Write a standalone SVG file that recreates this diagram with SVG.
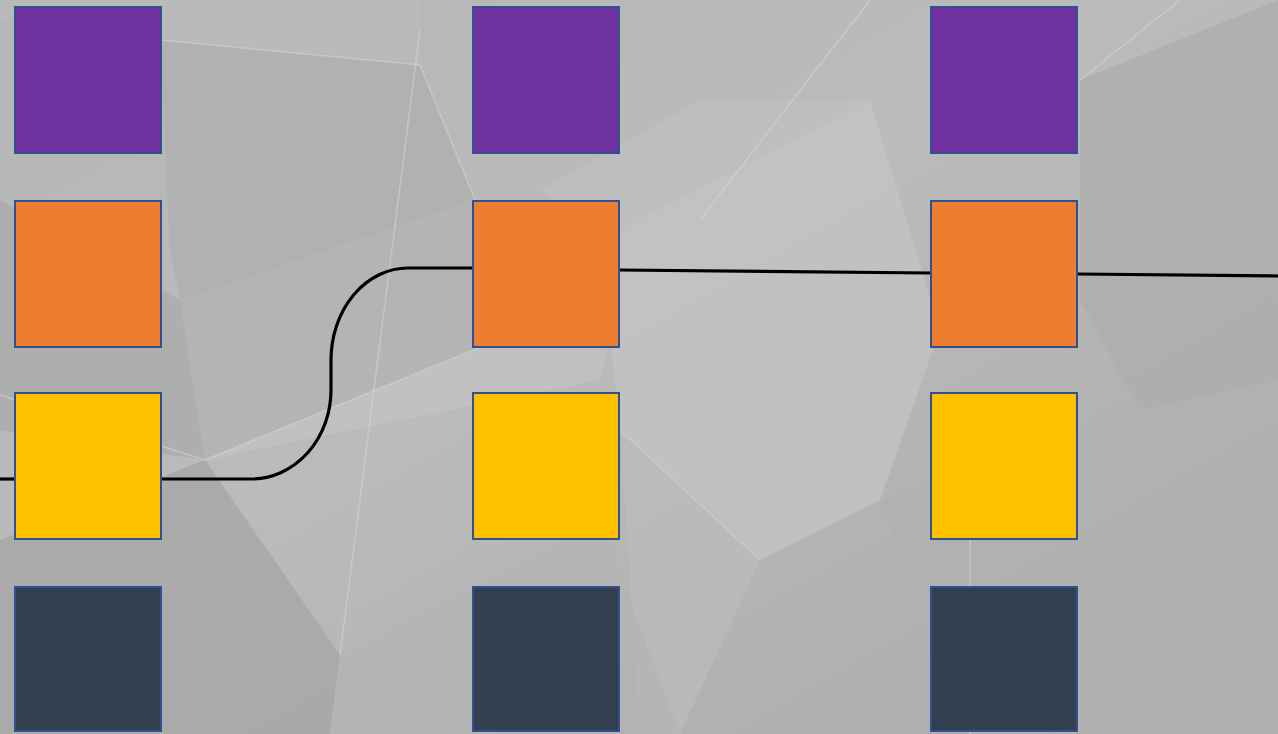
<svg xmlns="http://www.w3.org/2000/svg" width="1278" height="734" viewBox="0 0 1278 734">
<defs>
<linearGradient id="bg" x1="0" y1="0" x2="1" y2="1">
<stop offset="0" stop-color="#b6b6b6"/>
<stop offset="0.45" stop-color="#bbbbbb"/>
<stop offset="1" stop-color="#aaaaaa"/>
</linearGradient>
<style>
.sq{stroke:#2f528f;stroke-width:2}
.p{fill:#6f30a0}.o{fill:#ed7d31}.y{fill:#ffc000}.d{fill:#333f50}
.ln{fill:none;stroke:#000;stroke-width:3.2}
.fl{fill:none;stroke:#d4d4d4;stroke-width:1.5;opacity:0.6}
.f{opacity:0.7}
</style>
</defs>
<g id="background">
<rect width="1278" height="734" fill="url(#bg)"/>
<polygon class="f" points="0,0 420,0 420,65 160,40 0,20" fill="#bababa"/>
<polygon class="f" points="160,40 420,65 475,200 180,300 170,250" fill="#aeaeae"/>
<polygon class="f" points="0,200 180,300 205,460 0,430" fill="#a9a9a9"/>
<polygon class="f" points="180,300 475,200 620,290 205,460" fill="#b2b2b2"/>
<polygon class="f" points="205,460 620,290 600,380" fill="#c3c3c3"/>
<polygon class="f" points="600,240 870,100 940,330 880,500 760,560 620,430" fill="#c4c4c4"/>
<polygon class="f" points="540,190 700,100 870,100 600,240" fill="#c0c0c0"/>
<polygon class="f" points="620,430 760,560 680,734 640,734" fill="#bcbcbc"/>
<polygon class="f" points="880,500 1140,410 1278,380 1278,734 970,734" fill="#b1b1b1"/>
<polygon class="f" points="1080,80 1278,0 1278,380 1140,410 1080,300" fill="#adadad"/>
<polygon class="f" points="0,540 205,460 340,655 330,734 0,734" fill="#a4a4a4"/>
<polygon class="f" points="340,655 600,520 680,734 330,734" fill="#b4b4b4"/>
<polyline class="fl" points="420,30 340,655"/>
<polyline class="fl" points="420,65 475,200"/>
<polyline class="fl" points="160,40 420,65"/>
<polyline class="fl" points="205,460 620,290"/>
<polyline class="fl" points="620,430 760,560"/>
<polyline class="fl" points="700,220 870,0"/>
<polyline class="fl" points="1080,80 1180,0"/>
<polyline class="fl" points="970,540 970,734"/>
<polyline class="fl" points="0,395 205,460"/>
</g>
<g id="connectors">
<path class="ln" d="M0,479 L15,479"/>
<path class="ln" d="M161,479 L252,479 A80,89 0 0 0 331,390 L331,360 A77,92 0 0 1 408,268 L473,268"/>
<path class="ln" d="M619,270 L931,273"/>
<path class="ln" d="M1077,274 L1278,276"/>
</g>
<g id="c1-purple"><rect class="sq p" x="15" y="7" width="146" height="146"/></g>
<g id="c1-orange"><rect class="sq o" x="15" y="201" width="146" height="146"/></g>
<g id="c1-yellow"><rect class="sq y" x="15" y="393" width="146" height="146"/></g>
<g id="c1-dark"><rect class="sq d" x="15" y="587" width="146" height="144"/></g>
<g id="c2-purple"><rect class="sq p" x="473" y="7" width="146" height="146"/></g>
<g id="c2-orange"><rect class="sq o" x="473" y="201" width="146" height="146"/></g>
<g id="c2-yellow"><rect class="sq y" x="473" y="393" width="146" height="146"/></g>
<g id="c2-dark"><rect class="sq d" x="473" y="587" width="146" height="144"/></g>
<g id="c3-purple"><rect class="sq p" x="931" y="7" width="146" height="146"/></g>
<g id="c3-orange"><rect class="sq o" x="931" y="201" width="146" height="146"/></g>
<g id="c3-yellow"><rect class="sq y" x="931" y="393" width="146" height="146"/></g>
<g id="c3-dark"><rect class="sq d" x="931" y="587" width="146" height="144"/></g>
</svg>
